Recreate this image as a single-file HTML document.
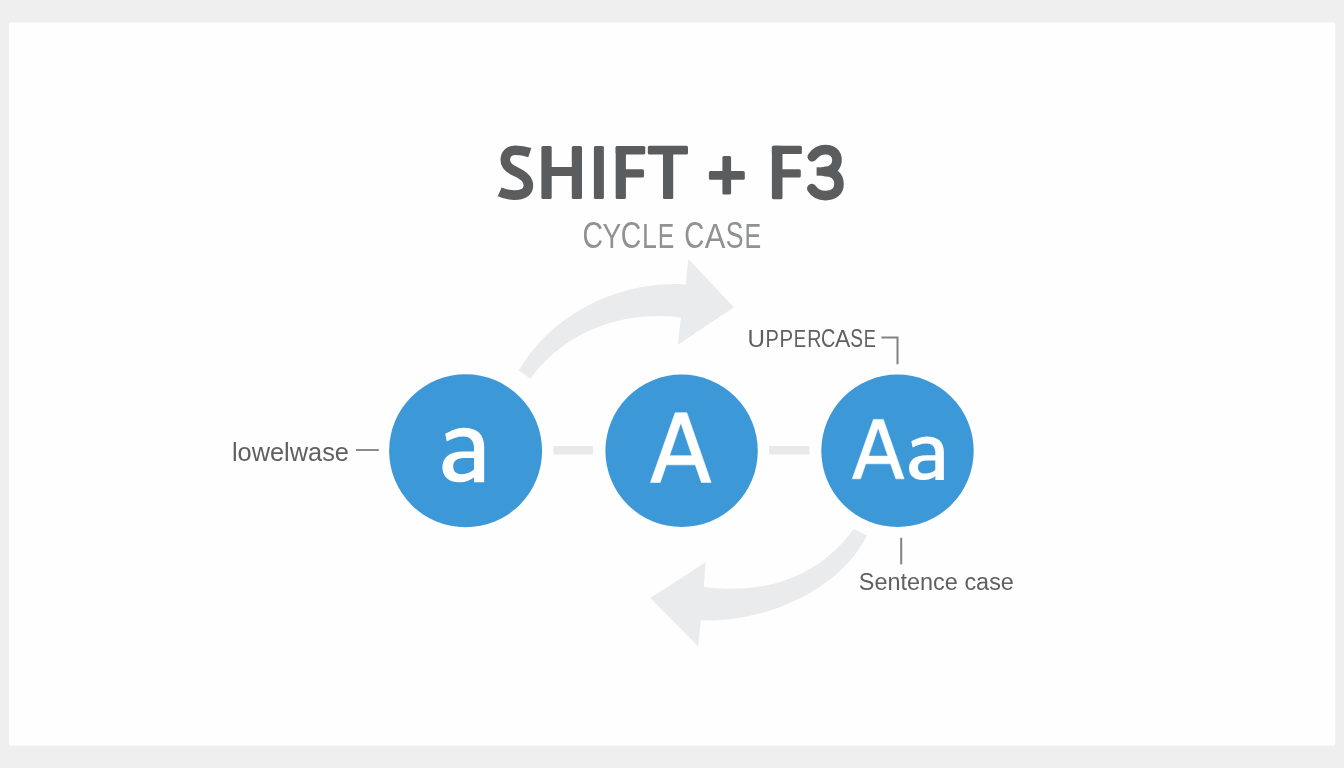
<!DOCTYPE html>
<html><head><meta charset="utf-8">
<style>
html,body{margin:0;padding:0;width:1344px;height:768px;overflow:hidden;background:#efefef;}
svg{display:block;will-change:transform;}
text{font-family:"Liberation Sans", sans-serif;}
</style></head>
<body>
<svg width="1344" height="768" viewBox="0 0 1344 768">
  <rect x="0" y="0" width="1344" height="768" fill="#efefef"/>
  <rect x="8.85" y="22.5" width="1326.35" height="723.1" fill="#fefefe"/>

  <g fill="none" stroke="#5b5c5e" stroke-width="9.6">
<path d="M529.8,152.6 C525,151 521,150.2 515.5,150.2 C509,150.2 505.3,154 505.3,160 C505.3,166.5 510.5,169.5 516.5,172 C523,175 528.4,178.5 528.4,185.5 C528.4,192.5 522.5,195.1 514.5,195.1 C508.5,195.1 504.5,193.9 499.7,191.8"/>
<path stroke-linecap="round" d="M812.3,156.8 C815.5,152.3 820,149.6 825.5,149.6 C832.5,149.6 837,153.5 837,160 C837,166.5 832,171.5 825,171.5"/>
<path stroke-width="8.4" d="M816.6,171.5 L826,171.5"/>
<path stroke-linecap="round" d="M825,171.5 C834,171.5 839,176.5 839,184 C839,191.5 833.5,195.6 825.5,195.6 C819.5,195.6 814.5,193 811.8,188.6"/>
</g>
  <g fill="#5b5c5e"><rect x="541.4" y="145.9" width="10.3" height="53.2" rx="1.6"/><rect x="571.8" y="145.9" width="10.2" height="53.2" rx="1.6"/><rect x="549" y="167.1" width="25.5" height="8.9" rx="1.6"/><rect x="593.9" y="145.9" width="10.0" height="53.2" rx="1.6"/><rect x="615.7" y="145.9" width="10.2" height="53.2" rx="1.6"/><rect x="615.7" y="145.9" width="29.6" height="8.5" rx="1.6"/><rect x="620" y="169.2" width="24.0" height="8.4" rx="1.6"/><rect x="647.8" y="145.8" width="40.2" height="8.7" rx="1.6"/><rect x="663.0" y="146" width="10.2" height="53.1" rx="1.6"/><rect x="708.9" y="171.1" width="35.9" height="8.7" rx="1.6"/><rect x="722.4" y="155.9" width="8.7" height="38.7" rx="1.6"/><rect x="771.9" y="145.8" width="10.6" height="53.4" rx="1.6"/><rect x="771.9" y="145.8" width="30.0" height="8.2" rx="1.6"/><rect x="776" y="169.2" width="24.8" height="8.4" rx="1.6"/></g>
  <text transform="translate(582.48,247.74) scale(0.788,1)" font-size="36.06" font-weight="normal" fill="#909192">C</text>
  <text transform="translate(602.4,247.6) scale(0.794,1)" font-size="35.36" font-weight="normal" fill="#909192">Y</text>
  <text transform="translate(620.78,247.74) scale(0.788,1)" font-size="36.06" font-weight="normal" fill="#909192">C</text>
  <text transform="translate(642.06,247.6) scale(0.756,1)" font-size="35.36" font-weight="normal" fill="#909192">L</text>
  <text transform="translate(657.82,247.6) scale(0.7,1)" font-size="35.36" font-weight="normal" fill="#909192">E</text>
  <text transform="translate(684.21,247.74) scale(0.77,1)" font-size="36.06" font-weight="normal" fill="#909192">C</text>
  <text transform="translate(704.85,247.6) scale(0.868,1)" font-size="35.62" font-weight="normal" fill="#909192">A</text>
  <text transform="translate(725.7,247.74) scale(0.738,1)" font-size="36.06" font-weight="normal" fill="#909192">S</text>
  <text transform="translate(744.6,247.6) scale(0.706,1)" font-size="35.36" font-weight="normal" fill="#909192">E</text>

  <path fill="#eaebec" d="M518.8,370.6 C552.0,313.5 620.3,280.1 685.7,284.5 L688.3,258.9 L733.9,307.3 L677.9,344.8 L680.9,317.4 C624.0,309.9 564.2,330.9 530.5,378.8 Z"/>
  <path fill="#eaebec" d="M853.7,528.9 C817.1,578.7 763.1,594.7 703.8,587.0 L705.6,562.2 L650.3,598 L698,646.3 L700.9,620.2 C760.6,623.3 839.2,592.1 867.0,535.4 Z"/>

  <rect x="553.4" y="446" width="39.5" height="8.6" fill="#e8e9ea"/>
  <rect x="769.1" y="446" width="40.3" height="8.6" fill="#e8e9ea"/>

  <circle cx="465.6" cy="450.8" r="76.5" fill="#3d98d8"/>
  <circle cx="681.6" cy="450.8" r="76.2" fill="#3d98d8"/>
  <circle cx="897.5" cy="450.8" r="76.2" fill="#3d98d8"/>

  <defs>
<g id="ga" fill="#fff">
<path d="M445.2,433.8 C451,430.8 456.5,427.7 463.5,427.7 C477,427.7 484.2,434 484.2,447 L484.2,482.3 L474,482.3 L474,448 C474,440.5 470,436.5 463.5,436.5 C457,436.5 452,438.6 446.8,441.6 Z"/>
<path fill-rule="evenodd" d="M479,451.4 L463,451.4 C449,451.4 442.4,458 442.4,467.5 C442.4,476.5 449,482.3 458.5,482.3 C466,482.3 471,480 475,476.5 L479,476.5 Z M474.5,458 L463.5,458 C456.5,458 453.2,461.5 453.2,466.5 C453.2,471.5 456.5,474.2 461.5,474.2 C467,474.2 471.5,472 474.5,469 Z"/>
</g>
<path id="gA" fill="#fff" fill-rule="evenodd" stroke="#fff" stroke-width="0.6" stroke-linejoin="round" d="M650.5,482.4 L675.2,412.7 L686.8,412.7 L711.1,482.4 L701.4,482.4 L695.3,464.8 L666.3,464.8 L660.2,482.4 Z M680.8,422.7 L692.1,455.7 L669.5,455.7 Z"/>
</defs>
  <use href="#ga"/>
  <use href="#gA"/>
  <use href="#gA" transform="translate(852,479.1) scale(0.856,0.853) translate(-650.2,-482.7)"/>
  <use href="#ga" transform="translate(909,436.4) scale(0.834,0.799) translate(-442.4,-427.7)"/>

  <text transform="translate(231.95,460.64) scale(0.971,1)" font-size="26.12" font-weight="normal" fill="#5f6061">lowelwase</text>
  <rect x="356" y="449" width="22.8" height="2" fill="#8a8b8c"/>

  <text transform="translate(747.38,346.85) scale(0.985,1)" font-size="24.57" font-weight="normal" fill="#5f6061">U</text>
  <text transform="translate(765.5,346.6) scale(0.826,1)" font-size="24.2" font-weight="normal" fill="#5f6061">P</text>
  <text transform="translate(779.57,346.6) scale(0.842,1)" font-size="24.2" font-weight="normal" fill="#5f6061">P</text>
  <text transform="translate(793.82,346.6) scale(0.766,1)" font-size="24.2" font-weight="normal" fill="#5f6061">E</text>
  <text transform="translate(807.23,346.6) scale(0.812,1)" font-size="24.2" font-weight="normal" fill="#5f6061">R</text>
  <text transform="translate(821.01,346.85) scale(0.796,1)" font-size="24.93" font-weight="normal" fill="#5f6061">C</text>
  <text transform="translate(834.89,346.6) scale(0.938,1)" font-size="24.38" font-weight="normal" fill="#5f6061">A</text>
  <text transform="translate(850.24,346.85) scale(0.767,1)" font-size="24.93" font-weight="normal" fill="#5f6061">S</text>
  <text transform="translate(863.75,346.6) scale(0.751,1)" font-size="24.2" font-weight="normal" fill="#5f6061">E</text>
  <path d="M881.4,337.5 H897.5 V364.3" fill="none" stroke="#808182" stroke-width="2"/>

  <line x1="901.2" y1="537.8" x2="901.2" y2="564.4" stroke="#808182" stroke-width="2"/>
  <text transform="translate(858.84,589.75) scale(0.957,1)" font-size="24.51" font-weight="normal" fill="#5f6061">Sentence case</text>
</svg>
</body></html>
